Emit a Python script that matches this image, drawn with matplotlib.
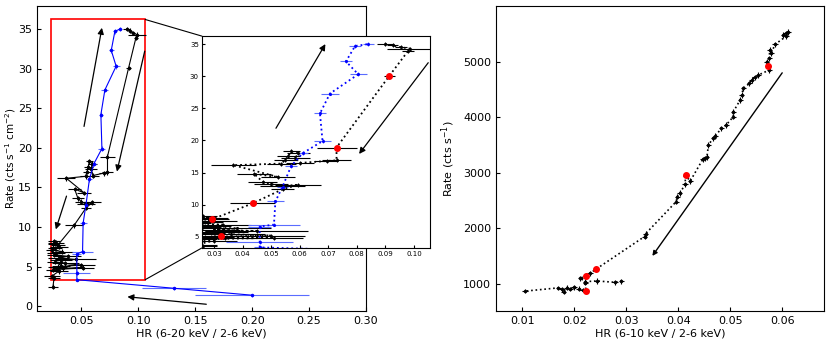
import matplotlib
matplotlib.use("Agg")
import matplotlib.pyplot as plt
from matplotlib.patches import Rectangle, ConnectionPatch

# ---------------- left panel data (blue track) ----------------
blue_hr = [0.200, 0.131, 0.046, 0.046, 0.046, 0.051, 0.0515, 0.054, 0.057, 0.061,
           0.068, 0.0671, 0.0706, 0.0805, 0.0762, 0.0794, 0.084]
blue_rate = [1.39, 2.27, 3.35, 4.2, 6.6, 6.9, 10.5, 12.8, 16.0, 18.0,
             19.9, 24.2, 27.3, 30.3, 32.3, 34.7, 35.0]
blue_hr_err = [0.05, 0.028, 0.002, 0.0118, 0.004, 0.009, 0.003, 0.002, 0.002, 0.002,
               0.003, 0.002, 0.003, 0.003, 0.002, 0.002, 0.002]
blue_rate_err = [0.2, 0.2, 0.2, 0.25, 0.25, 0.25, 0.3, 0.3, 0.3, 0.3,
                 0.3, 0.3, 0.3, 0.3, 0.3, 0.3, 0.3]

# ---------------- left panel data (black track) ----------------
black_hr = [0.0899, 0.0925, 0.0955, 0.0986, 0.0979, 0.0914, 0.0729, 0.0729, 0.0694, 0.0601,
            0.0585, 0.0595, 0.0570, 0.0560, 0.0550, 0.0536, 0.0368, 0.0525, 0.0440, 0.0470,
            0.0500, 0.0540, 0.0595, 0.0540, 0.0435, 0.0292,
            0.026, 0.028, 0.025, 0.030, 0.027, 0.024, 0.033, 0.028, 0.026, 0.038,
            0.030, 0.045, 0.032, 0.0323, 0.027, 0.036, 0.050, 0.029, 0.034, 0.051,
            0.025, 0.030, 0.024, 0.026, 0.025]
black_rate = [35.0, 34.8, 34.5, 34.3, 33.9, 30.06, 18.9, 16.9, 16.8, 16.5,
              17.3, 18.0, 18.3, 17.6, 17.0, 16.4, 16.15, 14.3, 14.8, 13.6,
              13.2, 12.9, 13.1, 12.4, 10.2, 7.7,
              8.2, 8.0, 7.8, 7.5, 7.3, 7.1, 6.9, 6.7, 6.5, 6.3,
              6.1, 5.9, 5.8, 5.14, 5.6, 5.4, 5.2, 5.0, 4.8, 4.85,
              4.6, 4.4, 3.8, 3.6, 2.45]
black_hr_err = [0.003, 0.002, 0.002, 0.008, 0.002, 0.002, 0.007, 0.005, 0.004, 0.005,
                0.005, 0.004, 0.003, 0.004, 0.004, 0.005, 0.008, 0.006, 0.006, 0.005,
                0.006, 0.008, 0.008, 0.004, 0.008, 0.006,
                0.005, 0.007, 0.004, 0.008, 0.006, 0.005, 0.010, 0.008, 0.006, 0.012,
                0.009, 0.018, 0.010, 0.008, 0.007, 0.012, 0.012, 0.008, 0.010, 0.010,
                0.006, 0.008, 0.007, 0.005, 0.004]
black_rate_err = [0.3] * len(black_hr)

red_hr = [0.0292, 0.0323, 0.0435, 0.0729, 0.0914]
red_rate = [7.7, 5.14, 10.2, 18.9, 30.06]

# ---------------- right panel data ----------------
track_hr = [0.0612, 0.0607, 0.0602, 0.0608, 0.0586, 0.0579, 0.0576, 0.0575, 0.0570, 0.0573,
            0.0575, 0.0554, 0.0547, 0.0541, 0.0537, 0.0525, 0.0522, 0.0519, 0.0506, 0.0506,
            0.0492, 0.0483, 0.0471, 0.0467, 0.0458, 0.0455, 0.0451, 0.0447, 0.0423, 0.0414,
            0.0413, 0.0403, 0.0398, 0.0396, 0.0337, 0.0335, 0.0242, 0.0230, 0.0222, 0.0211,
            0.0221, 0.0243, 0.0278, 0.0290]
track_rate = [5540, 5510, 5480, 5460, 5312, 5150, 5210, 5060, 5000, 4928,
              4850, 4760, 4718, 4670, 4610, 4520, 4400, 4310, 4100, 4010,
              3860, 3800, 3660, 3620, 3500, 3280, 3260, 3240, 2850, 2946,
              2790, 2630, 2570, 2480, 1900, 1850, 1265, 1187, 1144, 1097,
              1037, 1049, 1025, 1043]
low_hr = [0.0221, 0.0222, 0.0216, 0.0208, 0.0199, 0.0192, 0.0185, 0.0179, 0.0176, 0.0169, 0.0105]
low_rate = [1010, 870, 886, 910, 934, 905, 930, 850, 898, 925, 866]
right_red_hr = [0.0573, 0.0415, 0.0242, 0.0222, 0.0222]
right_red_rate = [4928, 2950, 1265, 1144, 868]

left_xticks = [0.05, 0.10, 0.15, 0.20, 0.25, 0.30]
left_yticks = [0, 5, 10, 15, 20, 25, 30, 35]
inset_xticks = [0.03, 0.04, 0.05, 0.06, 0.07, 0.08, 0.09, 0.10]
inset_yticks = [5, 10, 15, 20, 25, 30, 35]
right_xticks = [0.01, 0.02, 0.03, 0.04, 0.05, 0.06]
right_yticks = [1000, 2000, 3000, 4000, 5000]

fig = plt.figure(figsize=(8.3, 3.45), dpi=100)
ax1 = fig.add_axes([0.0446, 0.0986, 0.3964, 0.884])
ax2 = fig.add_axes([0.5976, 0.0994, 0.3955, 0.883])
axin = fig.add_axes([0.243, 0.281, 0.275, 0.6145])

def arrow(ax, start, end, lw=0.9, ms=9):
    ax.annotate("", xy=end, xytext=start,
                arrowprops=dict(arrowstyle="-|>", color="k", lw=lw,
                                mutation_scale=ms, shrinkA=0, shrinkB=0))

# ---- main left ----
ax1.errorbar(black_hr, black_rate, xerr=black_hr_err, yerr=black_rate_err, fmt=".-",
             color="k", ms=3, lw=0.8, elinewidth=0.8, capsize=0)
ax1.errorbar(blue_hr, blue_rate, xerr=blue_hr_err, yerr=blue_rate_err, fmt=".-",
             color="b", ecolor="#5a6cff", ms=3, lw=0.8, elinewidth=0.8, capsize=0)
ax1.set_xlim(0.011, 0.30)
ax1.set_ylim(-0.6, 37.9)
ax1.set_xticks(left_xticks)
ax1.set_xticklabels(["0.05", "0.10", "0.15", "0.20", "0.25", "0.30"])
ax1.set_yticks(left_yticks)
ax1.tick_params(direction="in", labelsize=8, length=3)
ax1.set_xlabel("HR (6-20 keV / 2-6 keV)", fontsize=8, labelpad=2)
ax1.set_ylabel("Rate (cts s$^{-1}$ cm$^{-2}$)", fontsize=7.5, labelpad=0)

rx0, rx1, ry0, ry1 = 0.0235, 0.106, 3.35, 36.2
ax1.add_patch(Rectangle((rx0, ry0), rx1 - rx0, ry1 - ry0, fill=False,
                        edgecolor="red", lw=1.2))
arrow(ax1, (0.1597, 0.25), (0.0904, 1.19))
arrow(ax1, (0.0523, 22.7), (0.068, 35.15))
arrow(ax1, (0.1056, 32.2), (0.0812, 17.0))
arrow(ax1, (0.0369, 13.9), (0.0275, 9.7))

# ---- inset ----
axin.errorbar(black_hr, black_rate, xerr=black_hr_err, yerr=black_rate_err, fmt=".:",
              color="k", ms=2.5, lw=1.3, elinewidth=0.8, capsize=0)
axin.errorbar(blue_hr, blue_rate, xerr=blue_hr_err, yerr=blue_rate_err, fmt=".:",
              color="b", ecolor="#5a6cff", ms=2.5, lw=1.3, elinewidth=0.8, capsize=0)
axin.plot(red_hr, red_rate, "o", color="red", ms=4, zorder=5)
axin.set_xlim(0.0257, 0.1056)
axin.set_ylim(3.25, 36.25)
axin.set_xticks(inset_xticks)
axin.set_xticklabels(["0.03", "0.04", "0.05", "0.06", "0.07", "0.08", "0.09", "0.10"])
axin.set_yticks(inset_yticks)
axin.tick_params(direction="in", labelsize=5, length=2, pad=2)
arrow(axin, (0.0517, 21.9), (0.069, 35.0))
arrow(axin, (0.105, 32.1), (0.0808, 17.9))

for (xa, ya), (xb, yb) in [((rx1, ry1), (0, 1)), ((rx1, ry0), (0, 0))]:
    cp = ConnectionPatch(xyA=(xa, ya), coordsA=ax1.transData,
                         xyB=(xb, yb), coordsB=axin.transAxes,
                         color="k", lw=0.8)
    fig.add_artist(cp)

# ---- right ----
ax2.errorbar(track_hr, track_rate, xerr=0.0005, yerr=50, fmt=".:", color="k",
             ms=3, lw=1.2, elinewidth=0.8, capsize=0)
ax2.errorbar(low_hr, low_rate, xerr=0.0005, yerr=40, fmt=".:", color="k",
             ms=3, lw=1.2, elinewidth=0.8, capsize=0)
ax2.plot(right_red_hr, right_red_rate, "o", color="red", ms=4, zorder=5)
arrow(ax2, (0.060, 4800), (0.035, 1500), lw=1.0, ms=7)
ax2.set_xlim(0.0049, 0.0681)
ax2.set_ylim(513, 6003)
ax2.set_xticks(right_xticks)
ax2.set_xticklabels(["0.01", "0.02", "0.03", "0.04", "0.05", "0.06"])
ax2.set_yticks(right_yticks)
ax2.tick_params(direction="in", labelsize=8, length=3)
ax2.set_xlabel("HR (6-10 keV / 2-6 keV)", fontsize=8, labelpad=2)
ax2.set_ylabel("Rate (cts s$^{-1}$)", fontsize=8, labelpad=4)

fig.savefig("out.png", dpi=100)
